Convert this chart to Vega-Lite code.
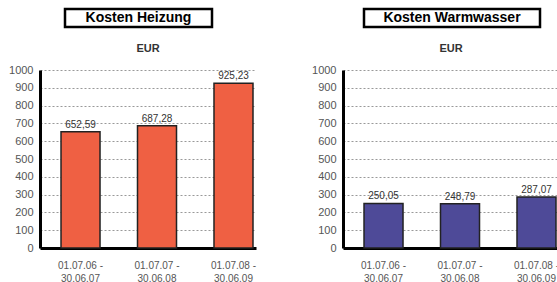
{
  "$schema": "https://vega.github.io/schema/vega-lite/v6.json",
  "background": "white",
  "padding": {"left": 8, "top": 7, "right": 0, "bottom": 0},
  "spacing": 14,
  "config": {
    "font": "Liberation Sans",
    "view": {"stroke": null},
    "locale": {"number": {"decimal": ",", "thousands": ".", "grouping": [3], "currency": ["", " €"]}},
    "axisX": {"domainColor": "black", "domainWidth": 3, "ticks": false, "labelAngle": 0, "labelFontSize": 10, "labelColor": "#555", "labelPadding": 12, "labelLineHeight": 13, "title": null, "grid": false, "zindex": 1,
      "labelExpr": "[slice(datum.label, 0, 10), slice(datum.label, 11)]"},
    "axisY": {"domainColor": "black", "domainWidth": 3, "ticks": false, "labelFontSize": 11, "labelColor": "#555", "labelPadding": 7, "labelOverlap": false, "title": null, "grid": true, "gridColor": "#999", "gridDash": [2, 2], "gridWidth": 1, "format": "d"}
  },
  "vconcat": [
    {
      "spacing": 0,
      "hconcat": [
        {"width": 23, "height": 18, "data": {"values": []}, "mark": "text"},
        {
          "width": 147, "height": 18,
          "view": {"stroke": "black", "strokeWidth": 2.5},
          "data": {"values": [{"t": "Kosten Heizung"}]},
          "mark": {"type": "text", "fontSize": 14, "fontWeight": "bold", "color": "black"},
          "encoding": {"text": {"field": "t", "type": "nominal"}}
        },
        {"width": 148, "height": 18, "data": {"values": []}, "mark": "text"},
        {
          "width": 176, "height": 18,
          "view": {"stroke": "black", "strokeWidth": 2.5},
          "data": {"values": [{"t": "Kosten Warmwasser"}]},
          "mark": {"type": "text", "fontSize": 14, "fontWeight": "bold", "color": "black"},
          "encoding": {"text": {"field": "t", "type": "nominal"}}
        }
      ]
    },
    {
      "spacing": 55,
      "hconcat": [
        {
          "width": 216, "height": 178,
          "title": {"text": "EUR", "fontSize": 11, "fontWeight": "bold", "color": "#333", "offset": 10, "frame": "group"},
          "data": {"values": [
            {"period": "01.07.06 - 30.06.07", "value": 652.59},
            {"period": "01.07.07 - 30.06.08", "value": 687.28},
            {"period": "01.07.08 - 30.06.09", "value": 925.23}
          ]},
          "encoding": {
            "x": {"field": "period", "type": "nominal", "sort": null, "scale": {"paddingInner": 0.49, "paddingOuter": 0.157, "align": 0.875}},
            "y": {"field": "value", "type": "quantitative", "scale": {"domain": [0, 1000]}, "axis": {"values": [0,100,200,300,400,500,600,700,800,900,1000]}}
          },
          "layer": [
            {"mark": {"type": "bar", "color": "#EF6043", "stroke": "#222", "strokeWidth": 1.5}},
            {"mark": {"type": "text", "baseline": "bottom", "dy": -2, "fontSize": 10, "color": "#333"},
             "encoding": {"text": {"field": "value", "type": "quantitative", "format": ".2f"}}}
          ]
        },
        {
          "width": 216, "height": 178,
          "title": {"text": "EUR", "fontSize": 11, "fontWeight": "bold", "color": "#333", "offset": 10, "frame": "group"},
          "data": {"values": [
            {"period": "01.07.06 - 30.06.07", "value": 250.05},
            {"period": "01.07.07 - 30.06.08", "value": 248.79},
            {"period": "01.07.08 - 30.06.09", "value": 287.07}
          ]},
          "encoding": {
            "x": {"field": "period", "type": "nominal", "sort": null, "scale": {"paddingInner": 0.49, "paddingOuter": 0.157, "align": 0.875}},
            "y": {"field": "value", "type": "quantitative", "scale": {"domain": [0, 1000]}, "axis": {"values": [0,100,200,300,400,500,600,700,800,900,1000]}}
          },
          "layer": [
            {"mark": {"type": "bar", "color": "#4E4A98", "stroke": "#222", "strokeWidth": 1.5}},
            {"mark": {"type": "text", "baseline": "bottom", "dy": -2, "fontSize": 10, "color": "#333"},
             "encoding": {"text": {"field": "value", "type": "quantitative", "format": ".2f"}}}
          ]
        }
      ]
    }
  ]
}
